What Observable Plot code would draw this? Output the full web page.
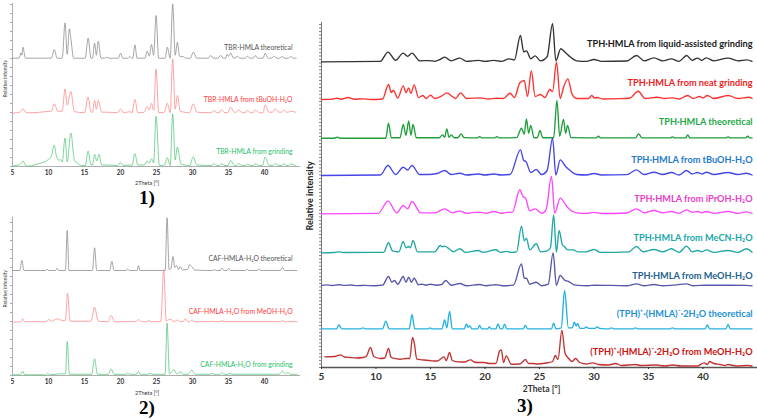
<!DOCTYPE html>
<html><head><meta charset="utf-8">
<script src="https://cdn.jsdelivr.net/npm/d3@7"></script>
<script src="https://cdn.jsdelivr.net/npm/@observablehq/plot@0.6"></script>
<style>
body{margin:0;background:#fff;}
#wrap{position:relative;width:757px;height:420px;overflow:hidden;font-family:Lato,sans-serif;background:#fff;}
.panel{position:absolute;}
.num{position:absolute;font-family:"Liberation Serif",serif;font-weight:bold;font-size:19px;line-height:1;transform:translateX(-50%);color:#000;}
</style></head><body>
<div id="wrap">
  <div id="p1" class="panel" style="left:0;top:0"></div>
  <div id="p2" class="panel" style="left:0;top:210px"></div>
  <div id="p3" class="panel" style="left:300px;top:0"></div>
  <div class="num" style="left:147px;top:188px">1)</div>
  <div class="num" style="left:147px;top:398px">2)</div>
  <div class="num" style="left:525px;top:396px">3)</div>
</div>
<script>
// ---------- DATA (2θ [°], relative intensity) ----------
const xTicks = [5, 10, 15, 20, 25, 30, 35, 40];

// Panel 1: TBR-HMLA
const p1Names = ["TBR-HMLA theoretical", "TBR-HMLA from tBuOH-H₂O", "TBR-HMLA from grinding"];
const p1Offsets = [108.3, 53.3, 0.5];
const tbrTheo = [[5,0],[5.9,0],[6.2,5.3],[6.3,3],[6.45,11],[6.8,0],[10.4,0],[10.8,8.7],[11.2,0],[11.9,0],[12.3,35.3],[12.6,4],[12.9,29.3],[13.1,20],[13.5,0],[15.1,0],[15.5,20],[15.9,0],[16.1,0],[16.4,15],[16.65,3],[16.9,17],[17.3,0],[17.8,0],[18.1,1],[18.4,0],[19.7,0],[20.0,5],[20.3,0],[21.0,0],[21.3,1.5],[21.6,0],[21.7,0],[22.0,13.3],[22.3,0],[23.4,0],[23.7,7],[24.0,2],[24.3,13.7],[24.6,3],[24.94,42.7],[25.3,0],[26.2,0],[26.5,11],[26.9,0],[27.25,54.3],[27.6,3],[27.9,16],[28.2,2],[28.7,1.5],[29.1,0],[29.7,0],[30.1,6],[30.6,0],[32.2,0],[32.5,2.7],[32.9,0],[33.5,0],[33.9,2.7],[34.3,0],[34.6,0],[34.8,4],[35.0,2],[35.3,5],[35.7,0],[35.9,0],[36.2,2],[36.6,0],[37.3,0],[37.6,2],[38.0,0],[38.4,0],[38.7,2.7],[39.1,0],[39.8,0],[40.1,5],[40.5,0],[41.0,0],[41.3,2],[41.7,0],[42.1,0],[42.4,1.7],[42.8,0],[43.3,0],[43.6,1.7],[44.0,0],[44.4,0]];
const tbrTbuoh = [[5,0],[6.0,1],[6.45,4.3],[6.9,0.5],[8,0.5],[9.5,1.5],[10.4,2],[10.8,9.3],[11.3,2],[11.9,2],[12.3,24.3],[12.6,8],[13.1,21.7],[13.6,1.5],[15.0,0.5],[15.5,16],[15.9,1],[16.1,1],[16.4,12.7],[16.65,4],[16.9,12.7],[17.4,1],[18.2,1],[19.6,0.5],[20.0,4.3],[20.4,0.5],[21.3,1.5],[21.6,0.5],[22.0,13.7],[22.4,0.5],[23.3,1],[23.7,6.7],[24.0,3],[24.3,10],[24.6,3],[24.94,44.3],[25.3,0.5],[26.1,1],[26.5,10],[26.9,0.5],[27.25,54.3],[27.6,4],[27.9,17.7],[28.3,2],[29.6,0.5],[30.1,9.3],[30.6,1],[32.6,0.5],[33.0,2.7],[33.4,0.5],[33.7,0.5],[34.0,3.3],[34.5,0.5],[34.9,0.5],[35.3,6],[35.8,1],[36.1,1],[36.4,3.3],[36.9,0.5],[37.3,0.5],[37.6,2.7],[38.1,0.5],[38.4,0.5],[38.7,3.3],[39.3,0.5],[39.8,0.5],[40.1,8.3],[40.6,1],[41.1,1],[41.5,4.3],[42.0,1],[42.4,1],[42.7,3],[43.1,1],[43.3,1],[43.6,2],[44.3,1]];
const tbrGrind = [[5,0],[6.0,1.5],[6.45,5],[6.9,0],[7.4,0],[8.3,1.7],[9.2,3.5],[9.9,6],[10.4,10],[10.8,20.7],[11.1,10],[11.3,7],[11.45,5.5],[11.6,6.7],[11.9,4],[12.3,28],[12.6,4],[13.1,33],[13.6,6],[14.0,3],[14.6,0.5],[15.1,0.5],[15.5,15],[15.9,1],[16.1,1],[16.4,11.7],[16.7,5],[17.0,11.7],[17.4,1],[18.3,1],[19.6,0.5],[20.0,3.3],[20.4,0.5],[21.3,1],[21.6,0.5],[22.0,12.3],[22.4,1],[23.3,1],[23.7,5],[24.0,3],[24.3,7.3],[24.6,3],[24.94,49.7],[25.4,0.5],[26.1,1],[26.5,8.3],[26.9,0.5],[27.25,52.3],[27.6,6],[27.9,19],[28.4,2],[29.6,0.5],[30.1,9],[30.6,1],[32.6,0.5],[33.0,2.3],[33.4,0.5],[33.7,0.5],[34.0,2.3],[34.5,0.5],[34.9,0.5],[35.3,5.7],[35.8,0.5],[36.1,0.5],[36.4,2.3],[36.9,0.5],[37.3,0.5],[37.6,1.7],[38.1,0.5],[38.4,0.5],[38.7,2.3],[39.3,0.5],[39.7,0.5],[40.1,9],[40.6,1],[41.1,0.5],[41.5,2.3],[42.0,0.5],[42.4,0.5],[42.7,2.3],[43.1,0.5],[43.3,0.5],[43.6,2],[44.3,0.5]];

// Panel 2: CAF-HMLA-H2O
const p2Names = ["CAF-HMLA-H₂O theoretical", "CAF-HMLA-H₂O from MeOH-H₂O", "CAF-HMLA-H₂O from grinding"];
const p2Offsets = [105, 53.3, 0.7];
const cafTheo = [[5,0],[6.0,0],[6.3,10],[6.6,0],[9.6,0],[9.8,1.3],[10.0,0],[11.0,0],[11.2,2.3],[11.4,0],[12.35,0],[12.6,40],[12.85,0],[16.1,0],[16.4,22.7],[16.7,0],[18.5,0],[18.8,9.3],[19.1,0],[20.8,0],[21.0,1.5],[21.2,0],[22.3,0],[22.5,5],[22.7,0],[26.2,0],[26.47,52.7],[26.75,1],[27.0,2],[27.3,14],[27.55,3],[27.8,5],[28.05,1],[28.3,4],[28.6,0.5],[29.3,1],[29.6,5.7],[30.0,3],[30.3,0.5],[32.8,0],[33.0,1],[33.3,0],[33.9,0],[34.1,2.3],[34.4,0],[34.8,0],[35.0,2],[35.3,0],[37.4,0],[37.6,1.5],[37.8,0],[39.0,0],[39.2,1.5],[39.4,0],[42.2,0],[42.5,3.3],[42.8,0],[44.5,0]];
const cafMeoh = [[5,0],[6.1,0.5],[6.4,3.3],[6.7,0.5],[9.6,0.5],[10.0,2.7],[10.4,1],[11.2,3.3],[12.0,1.5],[12.35,2],[12.65,29],[13.0,1],[15.9,1],[16.4,15],[16.9,1],[18.3,0.5],[18.7,6.7],[19.2,0.5],[22.1,0.5],[22.5,2.7],[22.9,0.5],[23.6,0.5],[23.9,1.7],[24.3,0.5],[25.6,0.5],[26.0,52.7],[26.35,1],[26.7,2.5],[27.0,3],[27.3,1],[27.6,1],[27.9,2.3],[28.3,0.5],[28.7,0.5],[29.0,3.3],[29.4,0.5],[29.6,0.5],[29.9,2.3],[30.3,0.5],[32.4,0.5],[32.7,1],[33.0,0.5],[33.8,0.5],[34.1,1.5],[34.4,0.5],[42.2,0.5],[42.5,1.5],[42.8,0.5],[44.5,0.5]];
const cafGrind = [[5,0],[6.1,0],[6.4,3.7],[6.7,0],[9.6,0],[9.9,1.5],[10.2,0],[11,0.5],[11.5,1],[12.35,1],[12.6,33.3],[12.9,0.5],[16.0,0.5],[16.4,16],[16.8,0.5],[18.3,0.5],[18.7,6],[19.1,0.5],[20.8,0.5],[21.0,1.5],[21.3,0.5],[22.2,0.5],[22.5,3.3],[22.8,0.5],[23.8,0.5],[24.1,1.7],[24.4,0.5],[26.2,0.5],[26.47,51.7],[26.8,1],[27.4,5.3],[27.8,1],[28.3,3],[28.7,0.5],[29.4,0.5],[29.9,4.7],[30.4,0.5],[32.4,0.5],[32.7,1.5],[33.0,0.5],[33.8,0.5],[34.1,2],[34.4,0.5],[34.9,0.5],[35.2,1.5],[35.5,0.5],[42.0,0.5],[42.5,3.7],[42.9,1],[43.2,2.3],[43.6,0.5],[44.5,0.5]];

// Panel 3: TPH-HMLA
const p3Names = ["TPH·HMLA from liquid-assisted grinding", "TPH·HMLA from neat grinding", "TPH·HMLA theoretical",
  "TPH·HMLA from tBuOH-H₂O", "TPH·HMLA from iPrOH-H₂O", "TPH·HMLA from MeCN-H₂O", "TPH·HMLA from MeOH-H₂O",
  "(TPH)⁺·(HMLA)⁻·2H₂O theoretical", "(TPH)⁺·(HMLA)⁻·2H₂O from MeOH-H₂O"];
const p3Offsets = [305.7, 268, 229.3, 192, 153.7, 114.7, 81.3, 38.7, 0];
const tphLag = [[5,0],[10.4,0.5],[11.1,9.7],[11.8,1.5],[12.5,8.7],[12.9,5.5],[13.3,8.7],[14.0,1],[14.85,1.2],[15.4,0.5],[15.9,2.5],[16.3,4.7],[16.9,1],[17.7,3.7],[18.3,0.5],[19.4,1.5],[20.0,0.5],[20.8,1.5],[21.5,0.5],[22.2,3],[22.7,2],[23.25,26.3],[23.55,10],[23.8,11],[24.2,3],[24.6,6],[25.1,1],[25.7,5],[26.2,38],[26.5,1],[26.95,13],[27.4,9],[27.8,5],[28.4,1],[29.3,0.5],[30.0,2.3],[30.7,0.5],[33.0,0.8],[33.9,6.3],[34.6,1],[35.5,4],[36.3,1],[37.1,3],[37.8,0.5],[38.5,6.3],[39.0,1.5],[39.5,3.7],[39.9,1.5],[40.3,4],[41.0,1],[42.3,3.7],[43.2,1],[44.0,2],[44.5,0.5]];
const tphNeat = [[5,0],[6.0,0.3],[6.4,1.3],[6.8,0.3],[7.45,2],[8.0,0.3],[8.8,0.7],[9.5,0],[10.6,0.5],[11.15,15],[11.4,7],[11.6,9],[12.0,1.5],[12.5,13.7],[12.75,7],[13.0,11.7],[13.2,6],[13.5,14.7],[13.9,2],[14.3,4],[14.6,1],[15.0,4.3],[15.4,1],[16.1,4],[16.5,6.7],[17.0,3],[17.3,1],[17.76,6.7],[18.3,1],[19.6,1.7],[20.3,0.5],[21.1,1.3],[21.7,1],[22.3,6.3],[22.7,2],[23.2,16.7],[23.6,19],[23.9,3],[24.25,28.5],[24.6,3],[25.1,5],[25.5,2],[25.95,10],[26.2,8],[26.56,37.5],[26.9,1],[27.2,12],[27.6,20.7],[28.0,5],[28.4,1],[29.5,1],[29.8,4],[30.05,1.5],[30.3,2],[30.8,0.5],[32.4,0.8],[33.3,1.5],[34.05,8.3],[34.7,1],[35.8,2.3],[36.5,1],[37.2,1.7],[37.8,0.5],[38.6,4],[39.1,1],[39.7,3],[40.0,1.5],[40.4,4],[41.0,1],[42.3,4],[43.2,1],[44.2,2.3],[44.5,1]];
const tphTheo = [[5,0],[6.2,0],[6.45,1],[6.7,0],[10.9,0],[11.15,15],[11.4,0.5],[12.2,0.5],[12.5,13.7],[12.75,3],[13.0,17.3],[13.2,3],[13.4,13.7],[13.7,0.5],[15.8,0.5],[16.1,3.3],[16.3,1],[16.5,9.3],[16.7,1],[16.9,3.3],[17.2,0.5],[17.5,0.5],[17.8,4.3],[18.1,0.5],[19.3,0.3],[19.5,1.5],[19.7,0.3],[20.9,0.3],[21.1,1.5],[21.3,0.3],[22.9,0.5],[23.35,10],[23.6,4],[23.8,19.3],[24.0,5],[24.2,12.7],[24.5,0.5],[24.8,0.5],[25.04,7.7],[25.3,0.5],[26.3,0.5],[26.6,37.7],[26.85,2],[27.2,18.7],[27.4,5],[27.57,12.7],[27.9,0.5],[30.2,0.3],[30.4,2],[30.6,0.3],[33.8,0.3],[34.1,4.3],[34.4,0.3],[37.0,0.3],[37.2,1.3],[37.4,0.3],[38.4,0.3],[38.6,3.3],[38.8,0.3],[42.1,0.3],[42.3,1.3],[42.5,0.3],[43.9,0.3],[44.1,2],[44.3,0.3],[44.5,0.3]];
const tphTbuoh = [[5,0],[10.4,0.5],[11.1,10],[11.8,1],[12.5,8.3],[12.9,5.5],[13.3,10],[14.0,1],[14.8,1],[15.6,2],[16.3,5],[16.9,1],[17.7,2.3],[18.3,0.5],[19.4,1.5],[20.0,0.5],[20.8,1.5],[21.5,0.5],[22.3,1],[23.25,25.7],[23.55,15],[23.75,14],[24.2,3],[24.7,6],[25.2,1],[25.7,5],[26.2,37.3],[26.5,0.5],[26.9,15.7],[27.4,9],[27.8,5],[28.4,1],[29.3,0.5],[30.0,2],[30.7,0.5],[33.0,0.8],[33.9,5.7],[34.6,1],[35.5,3.3],[36.3,1],[37.1,3],[37.8,0.5],[38.5,5],[39.0,1.5],[39.5,3],[39.9,1.5],[40.3,3.3],[41.0,1],[42.3,3],[43.2,1],[44.0,2.3],[44.5,0.5]];
const tphIproh = [[5,0],[10.2,0.5],[11.1,12.7],[11.9,1],[12.5,8.3],[12.9,5],[13.3,12.3],[14.1,1],[15.4,1],[16.3,5],[17.0,1],[17.7,2.7],[18.3,0.5],[19.4,1.7],[20.1,0.5],[20.8,2.3],[21.5,0.5],[22.0,1.5],[22.5,1.5],[23.2,24],[23.5,17],[23.7,16],[24.1,3],[24.6,5],[25.2,0.5],[25.6,4],[26.1,37.3],[26.4,0.5],[26.9,15.7],[27.4,9],[27.8,4],[28.4,1],[29.3,0.5],[30.0,1.5],[30.7,0.3],[33.0,0.8],[33.9,5],[34.6,1],[35.5,3.3],[36.3,1],[37.1,2.3],[37.8,0.5],[38.5,4],[39.0,1.5],[39.5,2.3],[39.9,1],[40.3,2.3],[41.0,0.5],[42.3,2.3],[43.2,0.5],[44.0,2],[44.5,0.5]];
const tphMecn = [[5,0],[6.2,0.3],[6.6,1],[7.0,0.3],[10.7,0.5],[11.15,10],[11.5,2],[11.7,1.5],[12.1,1],[12.5,11.3],[12.75,5],[13.0,6.3],[13.15,5],[13.4,12.3],[13.8,1],[15.4,1],[15.9,7.3],[16.1,6],[16.3,6.7],[16.7,4],[17.1,1],[17.7,4],[18.2,0.5],[19.4,2.3],[19.8,0.5],[21.0,3],[21.4,0.5],[22.0,1.5],[22.4,0.5],[22.9,1],[23.35,26.7],[23.6,12],[23.8,14.7],[24.1,3],[24.7,9],[25.1,1],[25.7,2],[26.0,5],[26.3,38],[26.55,0.5],[26.8,22.3],[27.1,8],[27.3,6],[27.6,3],[28.1,3],[28.5,1],[29.3,1],[30.0,3.3],[30.6,0.5],[33.2,1],[33.9,6.3],[34.5,1],[35.5,3.3],[36.3,1],[37.1,4],[37.8,0.5],[38.5,6.7],[39.0,1],[39.5,2.3],[39.9,1],[40.3,3],[41.0,0.5],[42.3,2.3],[43.2,0.5],[44.0,4],[44.5,0.5]];
const tphMeoh = [[5,0.8],[5.5,1.3],[6.0,0.7],[6.6,1.5],[7.2,0.8],[7.7,1.2],[8.3,0.6],[9.0,0.8],[9.8,0.5],[10.6,1],[11.15,9.7],[11.45,4],[11.7,5.7],[12.0,2],[12.5,9.7],[12.75,4],[13.0,9],[13.25,4],[13.5,8],[13.9,1.5],[14.2,2],[14.6,1],[15.0,2],[15.5,1],[16.0,1.5],[16.4,5.7],[16.9,1],[17.7,2.7],[18.3,0.5],[19.5,1.7],[20.1,0.5],[21.0,1.5],[21.6,0.5],[22.6,1],[23.35,22.3],[23.6,8],[23.8,8],[24.1,2],[24.7,4],[25.2,0.5],[25.8,2],[26.25,33.3],[26.55,0.8],[26.9,10.7],[27.3,6],[27.6,5],[28.3,1],[29.5,0.5],[30.0,1],[33.0,0.5],[33.9,2.3],[34.6,0.5],[35.5,1.7],[36.3,0.5],[37.2,1],[38.5,2.3],[39.1,0.5],[40.3,1],[42.3,1],[44.0,0.8],[44.5,0.3]];
const tphHydTheo = [[5,0],[6.4,0],[6.6,4],[6.85,0],[8.6,0],[8.8,1],[9.0,0],[10.6,0],[10.9,7.7],[11.2,0],[13.05,0],[13.3,14.3],[13.55,0],[14.8,0],[14.95,1],[15.1,0],[16.05,0],[16.3,9],[16.5,1],[16.75,17.3],[17.0,0],[18.1,0],[18.3,5],[18.45,1.5],[18.6,3],[18.8,0],[19.35,0],[19.5,3.3],[19.7,0],[20.25,0],[20.4,2],[20.55,0],[21.0,0],[21.2,5],[21.4,0],[21.6,0],[21.8,4.7],[22.0,0],[23.5,0],[23.7,3.3],[23.9,0],[26.1,0],[26.3,5.7],[26.5,0],[27.0,1],[27.3,38.3],[27.65,1],[28.0,1],[28.2,6.7],[28.35,3],[28.5,5.3],[28.7,0.5],[29.1,0.5],[29.3,2],[29.5,0.5],[30.1,0.5],[30.3,2],[30.5,0.5],[31.4,0],[31.6,1],[31.8,0],[33.6,0],[33.8,1],[34.0,0],[37.0,0],[37.2,1],[37.4,0],[40.2,0],[40.4,4],[40.6,0],[42.1,0],[42.3,4.3],[42.5,0],[44.5,0]];
const tphHydMeoh = [[5.3,10.7],[6.2,11],[6.74,12.7],[7.1,10.5],[7.6,10],[8.2,9.5],[8.8,10],[9.1,11],[9.5,20],[9.8,11],[10.4,9],[10.8,9.5],[11.15,19],[11.4,10],[11.6,9.3],[12.2,8.3],[12.8,9],[13.1,9],[13.35,30],[13.5,25],[13.75,8.3],[14.4,7.5],[15.1,6.7],[15.6,6.5],[16.25,10.7],[16.45,7],[16.75,15],[17.0,7],[17.5,5.7],[18.1,5.5],[18.7,7.7],[19.0,5.5],[19.3,5],[19.9,5],[20.4,4],[21.0,4],[21.35,16.7],[21.5,17.7],[21.7,5],[21.95,11.7],[22.4,3.3],[23.2,3.5],[23.7,8],[24.0,4],[24.4,4],[24.8,3.5],[25.6,4.5],[26.2,6],[26.45,12],[26.7,8],[27.05,37.3],[27.35,14],[27.6,10],[28.0,6],[28.3,9],[28.7,5],[29.3,3.5],[29.9,4.7],[30.4,3],[31.3,2.5],[32.0,4],[32.5,2],[33.8,3],[34.3,2],[35.7,2.5],[36.5,1.5],[37.2,2.5],[38.0,1.5],[39.5,1.5],[40.1,4.7],[40.4,3],[40.6,6],[41.0,4],[41.6,3],[42.0,2],[42.3,3],[43.0,1.5],[44.1,2],[44.5,1.5]];

// ---------- STYLE / LAYOUT ----------
const p1Series = [tbrTheo, tbrTbuoh, tbrGrind];
const p2Series = [cafTheo, cafMeoh, cafGrind];
const p3Series = [tphLag, tphNeat, tphTheo, tphTbuoh, tphIproh, tphMecn, tphMeoh, tphHydTheo, tphHydMeoh];
const p12LineColors = ["#8e8e8e", "#ff8c8c", "#5cc97e"];
const p12TextColors = ["#555555", "#ff4040", "#1fbf6a"];
const p1LabelLevel = [118.3, 67, 14.3];
const p2LabelLevel = [117, 64, 10.7];
const p3LineColors = ["#333333", "#ff3030", "#1f9e3a", "#4545ea", "#ff45ff", "#1fa8a4", "#5757ac", "#25b1e2", "#c23434"];
const p3TextColors = ["#1a1a1a", "#f01d1d", "#1faa48", "#1f7acb", "#e83ec8", "#1aa8a8", "#22628f", "#1e90d4", "#cc1414"];
const p3LabelLevel = [323.7, 284.7, 245.3, 207, 168, 129.7, 91.3, 53, 15.3];

function rows(pts, off) { return pts.map(([x, h]) => ({x, y: h + off})); }

function smallPanel(series, offsets, names, levels, yMax, mTop, mBottom, titleY, yLabelStart) {
  const marks = [
    Plot.ruleX([5], {stroke: "#9a9a9a", strokeWidth: 0.8}),
    Plot.axisY(d3.range(0, yMax, 9), {tickSize: 2, tickFormat: () => "", stroke: "#aaa", label: null}),
    Plot.ruleY([0], {stroke: "#9a9a9a", strokeWidth: 0.8}),
    Plot.axisX(xTicks, {tickSize: 0, tickPadding: 4, fontSize: 6.5, fontWeight: "bold", color: "#333", label: null}),
  ];
  series.forEach((s, i) => {
    marks.push(Plot.line(rows(s, offsets[i]), {x: "x", y: "y", stroke: p12LineColors[i], strokeWidth: 0.8, curve: "monotone-x"}));
  });
  marks.push(Plot.text(names, {x: () => 43.9, y: (d, i) => levels[i], text: d => d, textAnchor: "end",
    fill: (d, i) => p12TextColors[i], fontSize: 6.8}));
  marks.push(Plot.text(["2Theta [°]"], {x: () => 23.7, y: () => titleY, textAnchor: "middle", fontSize: 5.5, fill: "#333"}));
  marks.push(Plot.text(["Relative intensity"], {x: () => 5, y: () => yLabelStart, dx: -7, textAnchor: "start", rotate: -90, fontSize: 5, fill: "#444"}));
  return Plot.plot({
    width: 300, height: 210, marginLeft: 12, marginRight: 0, marginTop: mTop, marginBottom: mBottom,
    x: {domain: [5, 45], label: null}, y: {domain: [0, yMax], label: null},
    style: {fontFamily: "Lato, sans-serif", background: "transparent", overflow: "visible"},
    marks
  });
}

document.getElementById("p1").append(smallPanel(p1Series, p1Offsets, p1Names, p1LabelLevel, 163, 3, 44, -16.7, 69));
document.getElementById("p2").append(smallPanel(p2Series, p2Offsets, p2Names, p2LabelLevel, 158.3, 6.7, 45, -17.7, 68));

const m3 = [
  Plot.ruleX([5], {stroke: "#777", strokeWidth: 1}),
  Plot.axisY(d3.range(0, 345, 3.5), {tickSize: 2, tickFormat: () => "", stroke: "#888", label: null}),
  Plot.ruleY([0], {stroke: "#555", strokeWidth: 1.3}),
  Plot.axisX(xTicks, {tickSize: 2, tickPadding: 3, fontSize: 10, fontWeight: "bold", color: "#333", label: null}),
];
p3Series.forEach((s, i) => {
  m3.push(Plot.line(rows(s, p3Offsets[i]), {x: "x", y: "y", stroke: p3LineColors[i], strokeWidth: 1.35, curve: "monotone-x"}));
});
m3.push(Plot.text(p3Names, {x: () => 44.55, y: (d, i) => p3LabelLevel[i], text: d => d, textAnchor: "end",
  fill: (d, i) => p3TextColors[i], fontSize: 9.2, fontWeight: "bold"}));
m3.push(Plot.text(["2Theta [°]"], {x: () => 25.2, y: () => -22, textAnchor: "middle", fontSize: 8.5, fontWeight: "bold", fill: "#333"}));
m3.push(Plot.text(["Relative intensity"], {x: () => 5, y: () => 137, dx: -11, textAnchor: "start", rotate: -90, fontSize: 9, fontWeight: "bold", fill: "#222"}));

document.getElementById("p3").append(Plot.plot({
  width: 457, height: 420, marginLeft: 21, marginRight: 0, marginTop: 22, marginBottom: 53,
  x: {domain: [5, 45], label: null}, y: {domain: [0, 345], label: null},
  style: {fontFamily: "Lato, sans-serif", background: "transparent", overflow: "visible"},
  marks: m3
}));
</script>
</body></html>
